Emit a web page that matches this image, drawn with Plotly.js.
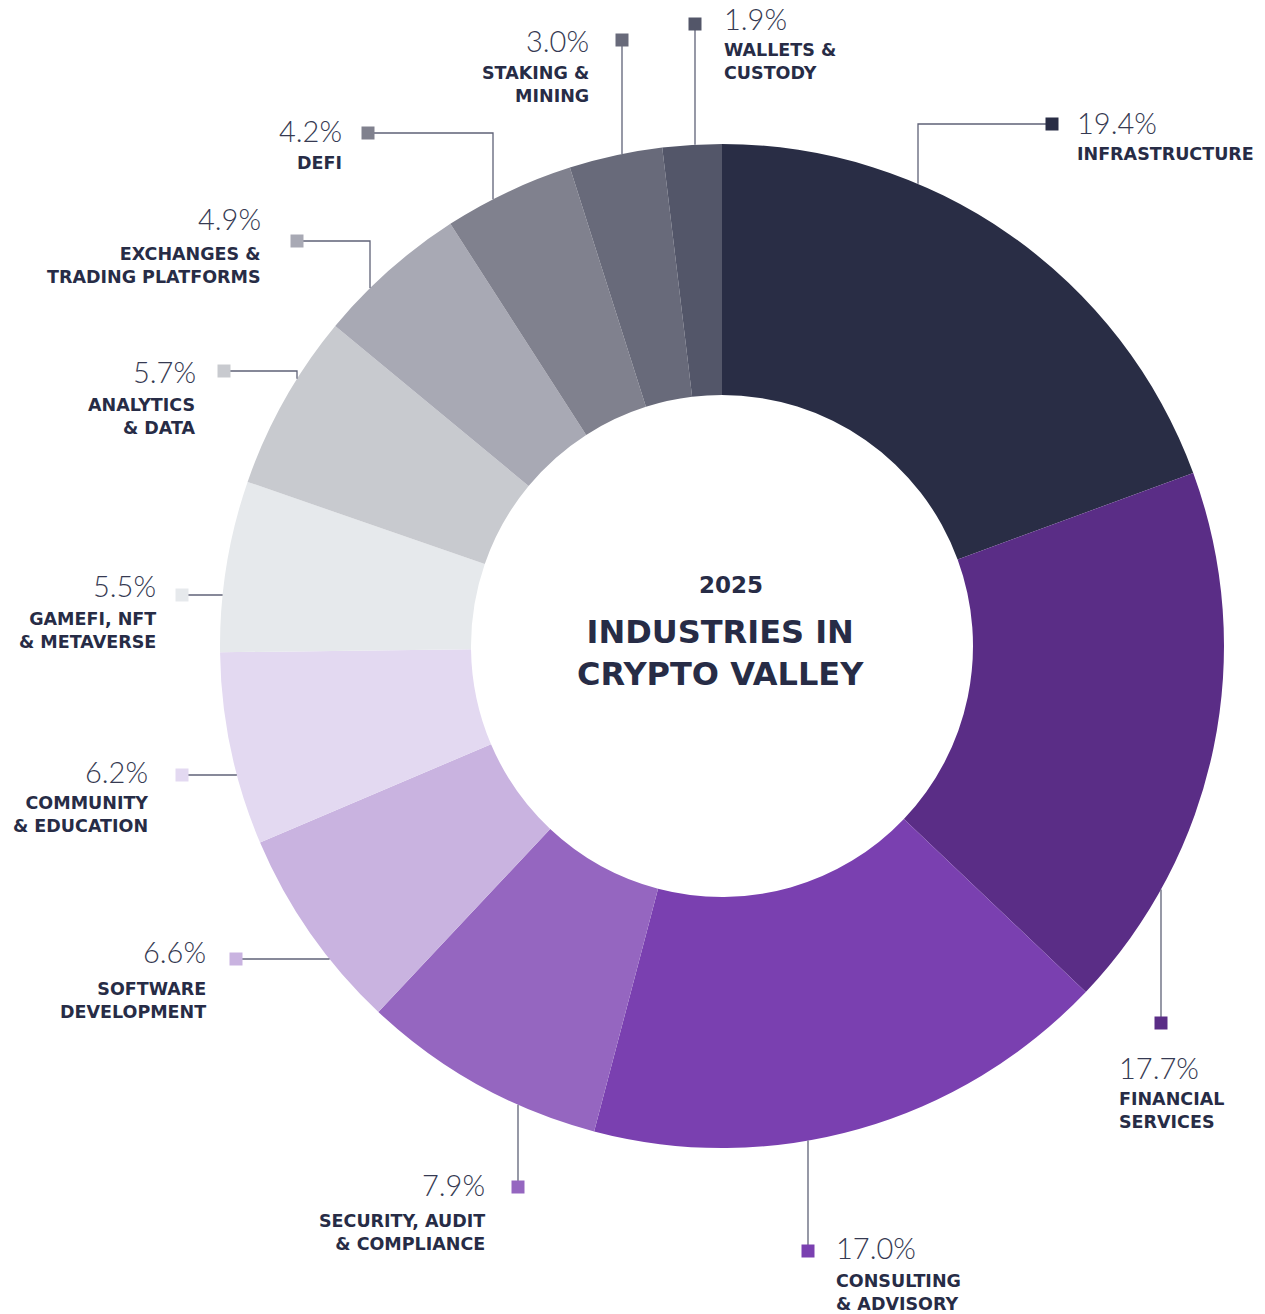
<!DOCTYPE html>
<html>
<head>
<meta charset="utf-8">
<script src="https://cdn.plot.ly/plotly-3.0.1.min.js"></script>
<style>
  html, body { margin: 0; padding: 0; background: #fff; }
  #chart { width: 1265px; height: 1314px; }
</style>
</head>
<body>
<div id="chart"></div>
<script>
// ---- data (clockwise from 12 o'clock) ----
const industries = [
  'INFRASTRUCTURE', 'FINANCIAL<br>SERVICES', 'CONSULTING<br>& ADVISORY',
  'SECURITY, AUDIT<br>& COMPLIANCE', 'SOFTWARE<br>DEVELOPMENT', 'COMMUNITY<br>& EDUCATION',
  'GAMEFI, NFT<br>& METAVERSE', 'ANALYTICS<br>& DATA', 'EXCHANGES &<br>TRADING PLATFORMS',
  'DEFI', 'STAKING &<br>MINING', 'WALLETS &<br>CUSTODY'
];
const shares = [19.4, 17.7, 17.0, 7.9, 6.6, 6.2, 5.5, 5.7, 4.9, 4.2, 3.0, 1.9];
const sliceColors = [
  '#292d45', '#5a2d86', '#7a40b0', '#9566c0', '#c9b3e0', '#e3d9f1',
  '#e6e9ec', '#c8cacf', '#a8a9b4', '#80818e', '#686a7a', '#535669'
];

// ---- layout helpers (pixels of the 1265x1314 canvas) ----
const W = 1265, H = 1314;
const CX = 722, CY = 646, R = 502;
const px = x => x / W;
const py = y => 1 - y / H;

// label placement: square marker, elbow x (null = straight horizontal to ring),
// text x, percent y, name block y, text anchor
const labelPos = [
  { sq: [1052, 124], ex: 918,  tx: 1075, pyy: 122,  ny: 154,  anchor: 'left'  },
  { sq: [1161, 1023], ex: 1161, tx: 1117, pyy: 1067, ny: 1110, anchor: 'left'  },
  { sq: [808, 1251], ex: 808,  tx: 834,  pyy: 1247, ny: 1292, anchor: 'left'  },
  { sq: [518, 1187], ex: 518,  tx: 487,  pyy: 1184, ny: 1232, anchor: 'right' },
  { sq: [236, 959],  ex: null, tx: 208,  pyy: 951,  ny: 1000, anchor: 'right' },
  { sq: [182, 775],  ex: null, tx: 150,  pyy: 771,  ny: 814,  anchor: 'right' },
  { sq: [182, 595],  ex: null, tx: 158,  pyy: 585,  ny: 631,  anchor: 'right' },
  { sq: [224, 371],  ex: 297,  tx: 198,  pyy: 371,  ny: 416,  anchor: 'right' },
  { sq: [297, 241],  ex: 370,  tx: 263,  pyy: 218,  ny: 265,  anchor: 'right' },
  { sq: [368, 133],  ex: 493,  tx: 344,  pyy: 130,  ny: 163,  anchor: 'right' },
  { sq: [622, 40],   ex: 622,  tx: 591,  pyy: 40,   ny: 84,   anchor: 'right' },
  { sq: [695, 24],   ex: 695,  tx: 722,  pyy: 19,   ny: 62,   anchor: 'left'  }
];

const TEXT = '#272c46';
const LINE = '#5f6277';
const SQ = 13;
const BOLD = '"DejaVu Sans", sans-serif';

const shapes = [];
const annotations = [];

labelPos.forEach((p, i) => {
  const [sx, sy] = p.sq;
  let path;
  if (p.ex === null) {
    // horizontal to the ring
    const rx = CX - Math.sqrt(R * R - (sy - CY) * (sy - CY));
    path = `M${px(sx)},${py(sy)} L${px(rx)},${py(sy)}`;
  } else {
    const dy = Math.sqrt(R * R - (p.ex - CX) * (p.ex - CX));
    const ry = sy < CY ? CY - dy : CY + dy;
    path = `M${px(sx)},${py(sy)} L${px(p.ex)},${py(sy)} L${px(p.ex)},${py(ry)}`;
  }
  shapes.push({ type: 'path', xref: 'paper', yref: 'paper', path: path,
    line: { color: LINE, width: 1.3 } });
  shapes.push({ type: 'rect', xref: 'paper', yref: 'paper',
    x0: px(sx - SQ / 2), x1: px(sx + SQ / 2), y0: py(sy + SQ / 2), y1: py(sy - SQ / 2),
    fillcolor: sliceColors[i], line: { width: 0 } });

  annotations.push({ xref: 'paper', yref: 'paper', x: px(p.tx), y: py(p.pyy),
    xanchor: p.anchor, yanchor: 'middle', showarrow: false,
    text: shares[i].toFixed(1) + '%',
    font: { family: 'Lato, "Open Sans", sans-serif', size: 29, weight: 300, color: '#363a52' } });
  annotations.push({ xref: 'paper', yref: 'paper', x: px(p.tx), y: py(p.ny),
    xanchor: p.anchor, yanchor: 'middle', align: p.anchor, showarrow: false,
    text: industries[i],
    font: { family: BOLD, size: 17.5, weight: 700, color: TEXT } });
});

// centre title
annotations.push({ xref: 'paper', yref: 'paper', x: px(731), y: py(585), showarrow: false,
  xanchor: 'center', yanchor: 'middle', text: '2025',
  font: { family: BOLD, size: 23, weight: 700, color: TEXT } });
annotations.push({ xref: 'paper', yref: 'paper', x: px(720), y: py(653), showarrow: false,
  xanchor: 'center', yanchor: 'middle', text: 'INDUSTRIES IN<br>CRYPTO VALLEY',
  font: { family: BOLD, size: 32, weight: 700, color: TEXT } });

const traza = {
  type: 'pie',
  labels: industries,
  values: shares,
  sort: false,
  direction: 'clockwise',
  rotation: 0,
  hole: 0.5,
  textinfo: 'none',
  hoverinfo: 'skip',
  marker: { colors: sliceColors, line: { width: 0 } },
  domain: { x: [px(CX - R), px(CX + R)], y: [py(CY + R), py(CY - R)] }
};

const layout = {
  width: W, height: H,
  margin: { l: 0, r: 0, t: 0, b: 0 },
  showlegend: false,
  shapes: shapes,
  annotations: annotations,
  plot_bgcolor: '#fff', paper_bgcolor: '#fff'
};

Plotly.newPlot('chart', [traza], layout, { displayModeBar: false, staticPlot: true });
</script>
</body>
</html>
